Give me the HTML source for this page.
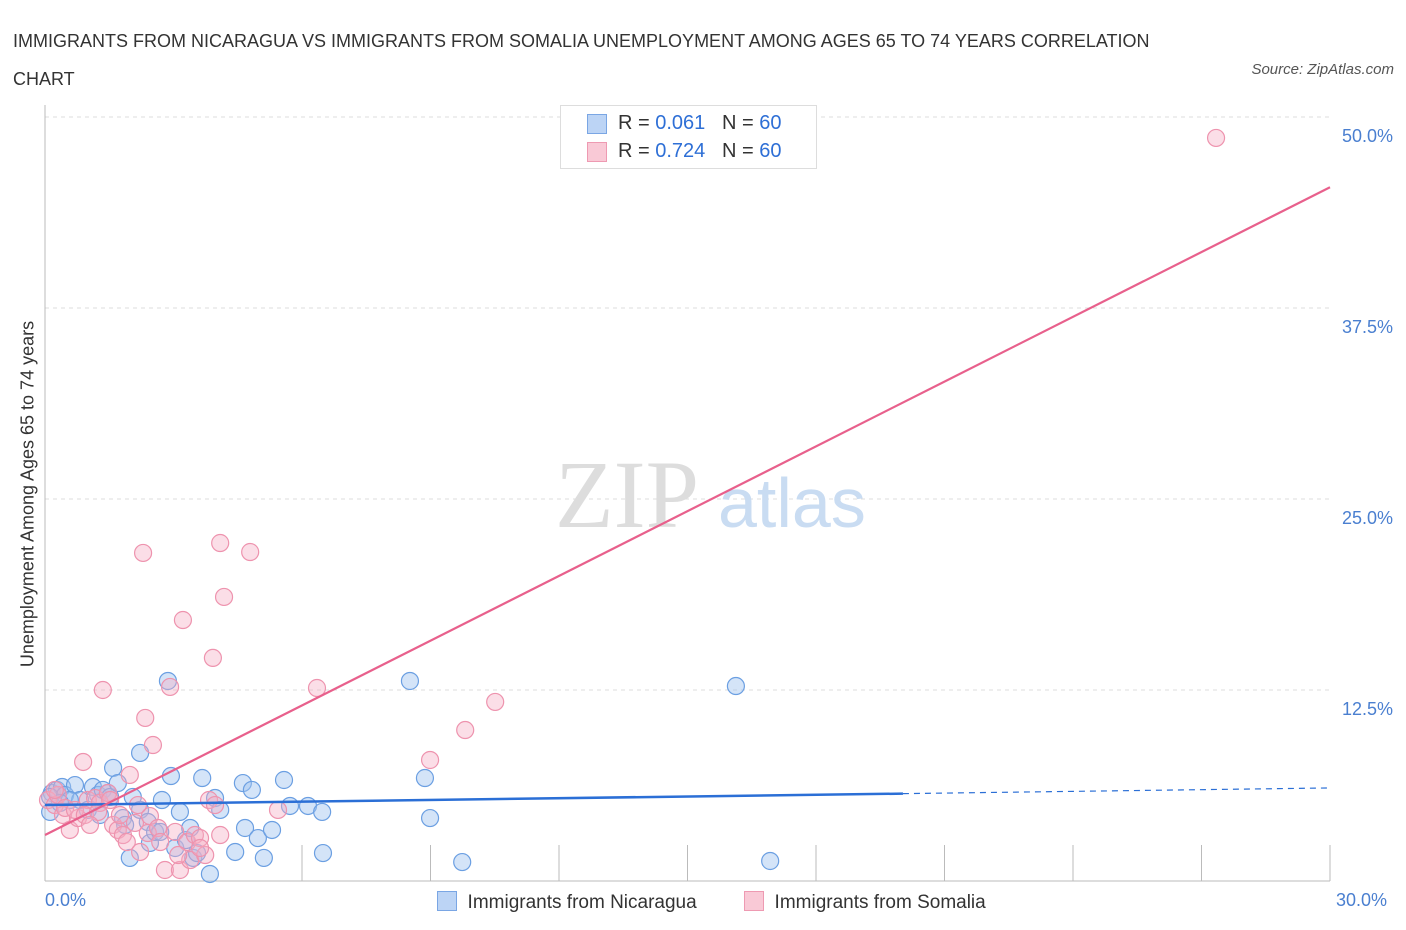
<!DOCTYPE html>
<html><head><meta charset="utf-8"><style>
body{margin:0;background:#fff;font-family:"Liberation Sans",sans-serif;}
#wrap{position:relative;width:1406px;height:930px;overflow:hidden}
.t{position:absolute;white-space:nowrap}
</style></head><body><div id="wrap">
<div class="t" style="left:13px;top:22px;font-size:18px;color:#333;line-height:38px">IMMIGRANTS FROM NICARAGUA VS IMMIGRANTS FROM SOMALIA UNEMPLOYMENT AMONG AGES 65 TO 74 YEARS CORRELATION<br>CHART</div>
<div class="t" style="right:12px;top:61px;font-size:15px;color:#555;font-style:italic">Source: ZipAtlas.com</div>
<svg id="svg" width="1406" height="930" style="position:absolute;left:0;top:0"></svg>
</div>
<script>
const xTicks=[0,30];
const yTicks=[12.5,25,37.5,50];
const yTickLabels=["12.5%","25.0%","37.5%","50.0%"];
const blueX=[0.16,0.28,0.40,0.12,0.47,0.70,0.82,1.12,1.24,1.35,1.47,1.52,1.59,1.70,1.82,1.98,2.05,2.22,2.22,2.40,2.45,2.57,2.69,2.73,2.87,2.94,3.04,3.15,3.29,3.39,3.46,3.55,3.67,3.85,3.97,4.09,4.44,4.62,4.67,4.83,4.97,5.11,5.30,5.58,5.72,6.14,6.47,6.49,8.52,8.87,8.99,9.74,16.13,16.93,0.12,0.58,1.00,1.87,1.28,0.35];
const blueY=[5.76,5.96,6.15,5.50,5.63,6.28,5.30,6.15,5.63,5.96,5.76,5.50,7.40,6.41,4.12,1.51,5.50,8.38,4.65,3.86,2.49,3.21,3.21,5.30,13.09,6.87,2.16,4.52,2.68,3.47,1.51,1.83,6.74,0.46,5.43,4.65,1.90,6.41,3.47,5.96,2.81,1.51,3.34,6.61,4.91,4.91,4.52,1.83,13.09,6.74,4.12,1.24,12.76,1.31,4.52,5.30,4.65,3.67,4.32,5.11];
const pinkX=[0.07,0.23,0.30,0.42,0.58,0.77,0.89,1.00,1.17,1.28,1.35,1.47,1.59,1.70,1.82,1.91,1.98,2.10,2.22,2.29,2.34,2.40,2.45,2.52,2.64,2.80,2.92,3.04,3.15,3.22,3.32,3.39,3.50,3.62,3.74,3.83,3.92,3.97,4.09,4.09,4.18,4.79,5.44,6.35,8.99,9.81,10.51,27.34,0.23,0.47,0.70,0.93,1.24,1.52,2.17,2.69,1.75,1.05,3.11,3.62];
const pinkY=[5.30,4.97,5.63,4.32,3.34,4.12,7.79,5.30,5.43,5.11,12.50,5.76,3.67,3.34,3.01,2.55,6.94,3.80,1.90,21.47,10.67,3.14,4.25,8.90,3.47,0.72,12.70,3.21,0.72,17.08,2.55,1.37,3.01,2.81,1.70,5.30,14.60,4.97,22.12,3.01,18.59,21.53,4.65,12.63,7.92,9.88,11.72,48.63,5.96,4.78,4.65,4.32,4.52,5.30,4.97,2.55,4.32,3.67,1.70,2.16];
const blueTrend=[4.97,6.09]; const blueSolidEnd=20.03;
const pinkTrend=[3.01,45.4];
const X0=45,X1=1330,Y0=881,Y50=117;
const sx=v=>X0+(v-xTicks[0])/(xTicks[1]-xTicks[0])*(X1-X0);
const sy=v=>Y0-v/50*(Y0-Y50);
const svg=document.getElementById('svg');const NS='http://www.w3.org/2000/svg';
function mk(tag,at,name){const e=document.createElementNS(NS,tag);for(const k in at)e.setAttribute(k,at[k]);


svg.appendChild(e);return e;}
yTicks.forEach((v,i)=>{mk('line',{x1:X0,x2:X1+2,y1:sy(v),y2:sy(v),stroke:'#ddd','stroke-dasharray':'4,4'},'gridline');
const t=mk('text',{x:1393,y:sy(v)+25,'text-anchor':'end','font-size':18,fill:'#4a7fd0','font-family':'Liberation Sans'},'y-tick-label');t.textContent=yTickLabels[i];});
mk('line',{x1:X0,x2:X0,y1:105,y2:Y0,stroke:'#bbb'},'y-axis');
mk('line',{x1:X0,x2:X1,y1:Y0,y2:Y0,stroke:'#bbb'},'x-axis');
for(let i=2;i<=10;i++){const x=X0+i*(X1-X0)/10;mk('line',{x1:x,x2:x,y1:845,y2:Y0,stroke:'#bbb'},'x-tick');}
const w1=mk('text',{x:555,y:527,'font-size':96,fill:'#ddd','font-family':'Liberation Serif'},'watermark-zip');w1.textContent='ZIP';
const w2=mk('text',{x:718,y:527,'font-size':70,fill:'#c9dcf2','font-family':'Liberation Sans'},'watermark-atlas');w2.textContent='atlas';
blueX.forEach((v,i)=>mk('circle',{cx:sx(v),cy:sy(blueY[i]),r:8.5,fill:'rgba(160,195,240,0.45)',stroke:'#6b9fe2','stroke-width':1.2},'point-nicaragua'));
pinkX.forEach((v,i)=>mk('circle',{cx:sx(v),cy:sy(pinkY[i]),r:8.5,fill:'rgba(246,172,194,0.4)',stroke:'#ee93ae','stroke-width':1.2},'point-somalia'));
const by=x=>blueTrend[0]+(blueTrend[1]-blueTrend[0])*x/30;
mk('line',{x1:sx(0),y1:sy(by(0)),x2:sx(blueSolidEnd),y2:sy(by(blueSolidEnd)),stroke:'#2b6fd6','stroke-width':2.5},'trend-nicaragua');
mk('line',{x1:sx(blueSolidEnd),y1:sy(by(blueSolidEnd)),x2:sx(30),y2:sy(by(30)),stroke:'#2b6fd6','stroke-width':1.2,'stroke-dasharray':'6,5'},'trend-nicaragua-dashed');
mk('line',{x1:sx(0),y1:sy(pinkTrend[0]),x2:sx(30),y2:sy(pinkTrend[1]),stroke:'#e8608c','stroke-width':2.2},'trend-somalia');
</script>
<div class="t" style="left:28px;top:494px;font-size:18px;color:#333;transform:translate(-50%,-50%) rotate(-90deg)">Unemployment Among Ages 65 to 74 years</div>
<div class="t" style="left:45px;top:890px;font-size:18px;color:#4a7fd0">0.0%</div>
<div class="t" style="left:1336px;top:890px;font-size:18px;color:#4a7fd0">30.0%</div>
<div style="position:absolute;left:560px;top:105px;width:255px;height:62px;border:1px solid #ddd;background:#fff;font-size:20px;color:#333">
<div style="position:absolute;left:26px;top:8px;width:18px;height:18px;background:#bcd4f5;border:1px solid #7aa6e4"></div>
<div class="t" style="left:57px;top:6px">R = <span style="color:#2e6fd6">0.061</span>&nbsp;&nbsp;&nbsp;N = <span style="color:#2e6fd6">60</span></div>
<div style="position:absolute;left:26px;top:36px;width:18px;height:18px;background:#f9c9d6;border:1px solid #ee9ab2"></div>
<div class="t" style="left:57px;top:34px">R = <span style="color:#2e6fd6">0.724</span>&nbsp;&nbsp;&nbsp;N = <span style="color:#2e6fd6">60</span></div>
</div>
<div style="position:absolute;left:437px;top:891px;font-size:19px;color:#333"><span style="display:inline-block;width:18px;height:18px;background:#bcd4f5;border:1px solid #7aa6e4;vertical-align:-3px"></span>&nbsp; Immigrants from Nicaragua</div>
<div style="position:absolute;left:744px;top:891px;font-size:19px;color:#333"><span style="display:inline-block;width:18px;height:18px;background:#f9c9d6;border:1px solid #ee9ab2;vertical-align:-3px"></span>&nbsp; Immigrants from Somalia</div>
</body></html>
